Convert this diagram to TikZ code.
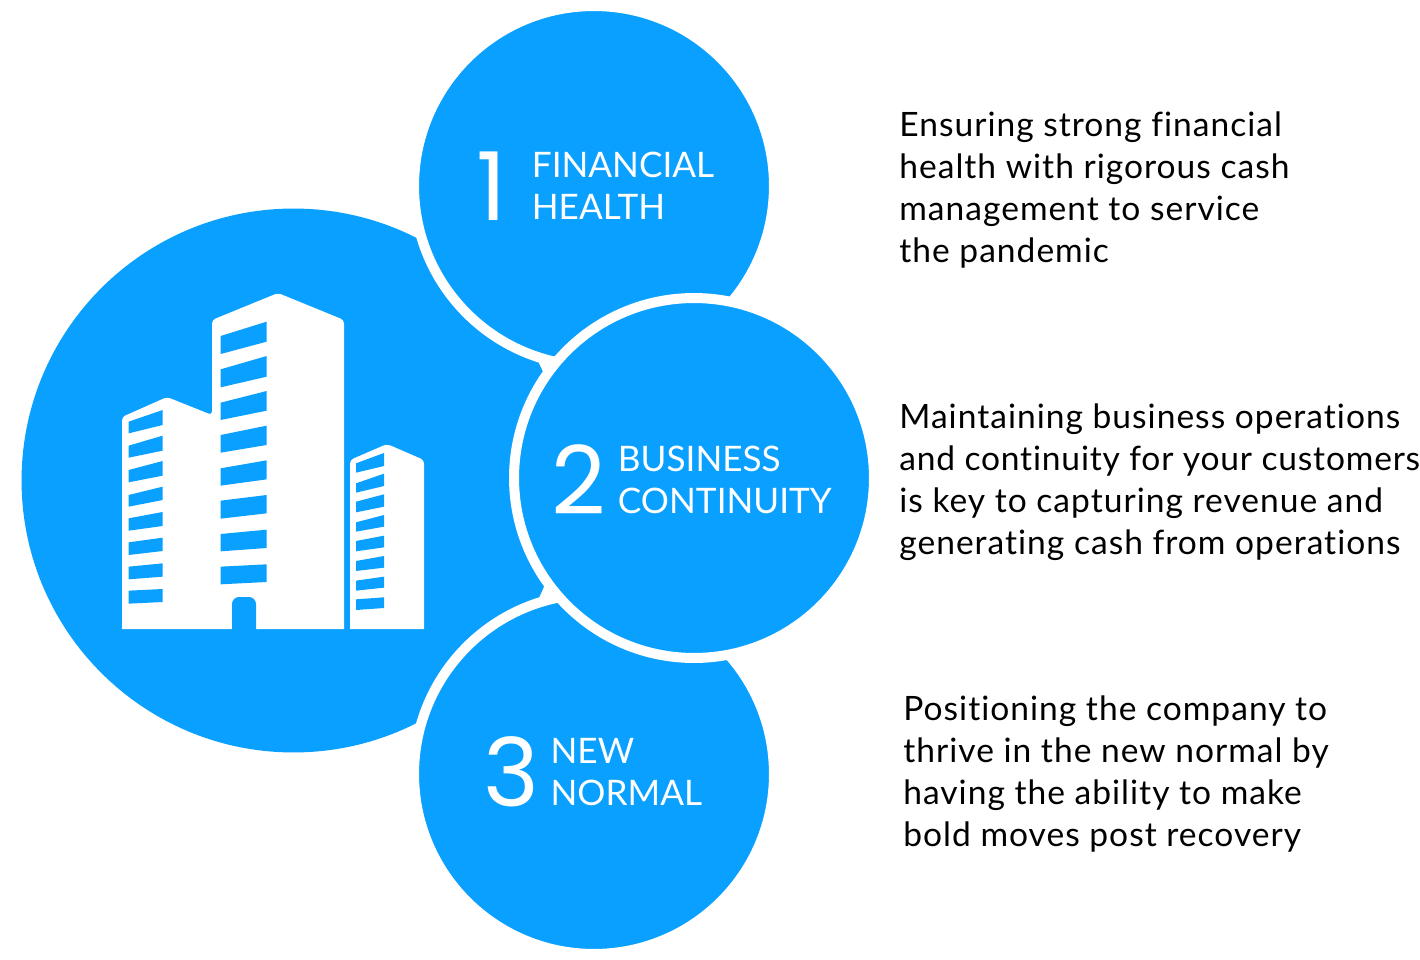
\documentclass[tikz,border=0pt]{standalone}
\usepackage{fontspec}
\usepackage{tikz}
\usetikzlibrary{positioning}
\setmainfont{Lato}[LetterSpace=3.0, Ligatures=CommonOff]
\newfontfamily\digitfont{Poppins}
\definecolor{skyblue}{RGB}{10,160,255}
\tikzstyle{bigdisc} = [circle, minimum size=10.88cm, inner sep=0pt, fill=skyblue]
\tikzstyle{disc} = [circle, minimum size=7.2cm, inner sep=0pt, fill=skyblue, draw=white, line width=0.2cm]
\tikzstyle{numeral} = [inner sep=0pt, text=white, font=\digitfont\fontsize{54}{54}\selectfont]
\tikzstyle{caption} = [inner sep=0pt, text=white, align=left, font=\fontsize{20}{23.9}\selectfont\addfontfeature{LetterSpace=0}]
\tikzstyle{remark} = [inner sep=0pt, anchor=north west, text=black, align=left, font=\fontsize{19.1}{23.9}\selectfont]
\begin{document}
\begin{tikzpicture}[x=0.02cm, y=-0.02cm]
    \useasboundingbox (0,0) rectangle (1420,960);
    \node (hub) [bigdisc] at (293.5,480.5) {};
    \node (finance) [disc] at (594,186) {};
    \node (normal) [disc] at (594,774) {};
    \node (business) [disc] at (694,478) {};

    % building
    \fill[white] (122,629) [rounded corners=2pt] -- (122,417) -- (167,397) -- (212,415) [sharp corners] -- (212,415) [rounded corners=2pt] -- (212,320) -- (278,293) -- (344,320) [sharp corners] -- (344,629) -- cycle;
    \fill[white] (350,629) [rounded corners=2pt] -- (350,460) -- (387,444) -- (424,460) [sharp corners] -- (424,629) -- cycle;
    \fill[skyblue] (232,630) [rounded corners=4pt] -- (232,597) -- (256,597) [sharp corners] -- (256,630) -- cycle;
    \begin{scope}[shift={(100,280)}, scale=1/3]
        \foreach \la/\lb/\ra/\rb in {168/222/125/185, 268/322/228/290, 368/420/333/392, 465/518/437/495, 565/617/541/598, 662/716/645/700, 762/814/749/804, 860/913/853/906}
            \fill[skyblue] (362,\la) -- (500,\ra) -- (500,\rb) -- (362,\lb) -- cycle;
        \foreach \la/\lb/\ra/\rb in {425/460/390/435, 497/533/467/512, 570/607/543/587, 645/680/620/660, 715/752/696/738, 787/825/773/813, 860/898/850/890, 932/971/927/966}
            \fill[skyblue] (86,\la) -- (188,\ra) -- (188,\rb) -- (86,\lb) -- cycle;
        \foreach \la/\lb/\ra/\rb in {550/578/519/558, 610/638/581/618, 665/697/643/680, 727/755/705/740, 783/814/767/802, 843/873/828/863, 902/932/890/923, 958/990/952/984}
            \fill[skyblue] (768,\la) -- (852,\ra) -- (852,\rb) -- (768,\lb) -- cycle;
    \end{scope}

    \node (one) [numeral] at (492,186) {1};
    \node (onetext) [caption, right=0.48cm of one] {FINANCIAL\\HEALTH};
    \node (two) [numeral] at (579,480) {2};
    \node (twotext) [caption, right=0.22cm of two] {BUSINESS\\CONTINUITY};
    \node (three) [numeral] at (511,772) {3};
    \node (threetext) [caption, right=0.22cm of three] {NEW\\NORMAL};

    \node (firstnote) [remark] at (899,111) {Ensuring strong financial\\health with rigorous cash\\management to service\\the pandemic};
    \node (secondnote) [remark] at (899,403) {Maintaining business operations\\{\addfontfeature{LetterSpace=2.4}and continuity for your customers}\\is key to capturing revenue and\\generating cash from operations};
    \node (thirdnote) [remark] at (903,695) {Positioning the company to\\thrive in the new normal by\\having the ability to make\\bold moves post recovery};
\end{tikzpicture}
\end{document}
